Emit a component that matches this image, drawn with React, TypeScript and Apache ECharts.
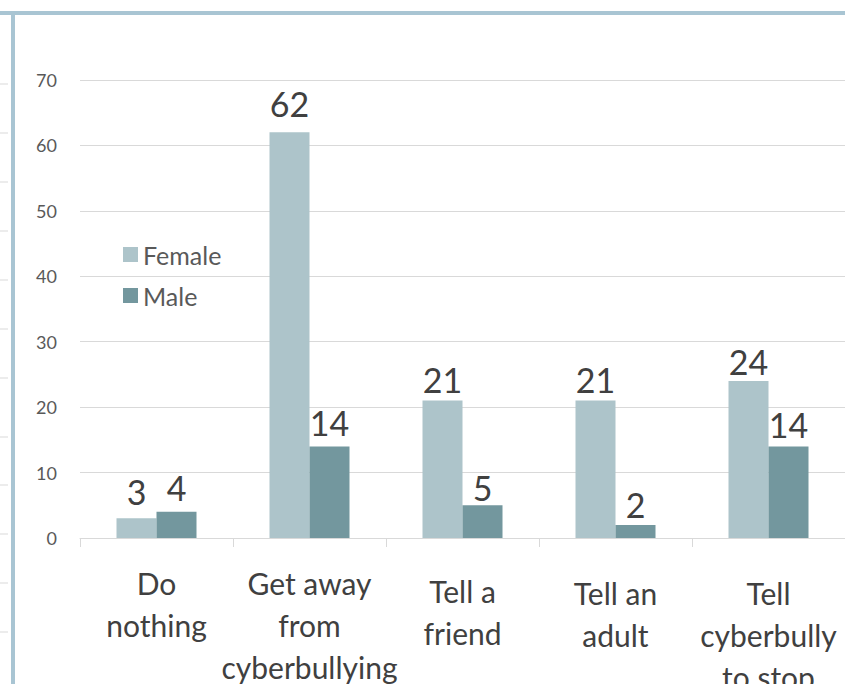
import React, { useEffect, useRef } from "react";
import * as echarts from "echarts";

const categories = [
  "Do\nnothing",
  "Get away\nfrom\ncyberbullying",
  "Tell a\nfriend",
  "Tell an\nadult",
  "Tell\ncyberbully\nto stop",
];
const categoryLabelShift = [0, 0, 8, 10, 10];
const femaleValues = [3, 62, 21, 21, 24];
const maleValues = [4, 14, 5, 2, 14];
const femaleLabelGap = [10, 12, 4, 4, 2];
const maleLabelGap = [7, 7, 1, 3, 5];
const yTicks = { min: 0, max: 70, interval: 10 };
const sideTickYs = [84, 133, 182, 231, 280, 329, 378, 437, 485, 534, 583, 632];

export default function App() {
  const ref = useRef<HTMLDivElement>(null);
  useEffect(() => {
    if (!ref.current) return;
    const chart = echarts.init(ref.current, undefined, { renderer: "svg" });
    const font = "Lato, 'Open Sans', sans-serif";
    const labelStyle = {
      show: true,
      position: "top" as const,
      distance: 6,
      fontSize: 34,
      color: "#404040",
      fontFamily: font,
    };
    const withGaps = (vals: number[], gaps: number[]) =>
      vals.map((v, i) => ({ value: v, label: { distance: gaps[i] } }));
    chart.setOption({
      animation: false,
      backgroundColor: "#ffffff",
      grid: {
        left: 80,
        right: 0,
        top: 80,
        bottom: 146,
        containLabel: false,
        outerBoundsMode: "none",
      },
      legend: {
        orient: "vertical",
        left: 118,
        top: 237,
        icon: "rect",
        itemWidth: 15,
        itemHeight: 15,
        itemGap: 16,
        textStyle: { fontSize: 25, color: "#595959", fontFamily: font },
        data: ["Female", "Male"],
      },
      xAxis: {
        type: "category",
        data: categories.map((c, i) => ({
          value: c,
          textStyle: { padding: [categoryLabelShift[i], 0, 0, 0] },
        })),
        axisLine: { show: true, lineStyle: { color: "#d9d9d9", width: 1 } },
        axisTick: { show: true, length: 9, lineStyle: { color: "#d9d9d9" } },
        axisLabel: {
          interval: 0,
          fontSize: 30,
          color: "#404040",
          fontFamily: font,
          lineHeight: 42,
          margin: 24,
          verticalAlign: "top",
        },
      },
      yAxis: {
        type: "value",
        min: yTicks.min,
        max: yTicks.max,
        interval: yTicks.interval,
        axisLine: { show: false },
        axisTick: { show: false },
        splitLine: { lineStyle: { color: "#d9d9d9", width: 1 } },
        axisLabel: { fontSize: 18, color: "#595959", fontFamily: font, margin: 23 },
      },
      series: [
        {
          name: "Female",
          type: "bar",
          data: withGaps(femaleValues, femaleLabelGap),
          barWidth: 40,
          barGap: "0%",
          itemStyle: { color: "#adc4ca" },
          label: labelStyle,
        },
        {
          name: "Male",
          type: "bar",
          data: withGaps(maleValues, maleLabelGap),
          barWidth: 40,
          barGap: "0%",
          itemStyle: { color: "#73979e" },
          label: labelStyle,
        },
      ],
      graphic: [
        {
          type: "rect",
          shape: { x: 0, y: 11, width: 845, height: 4 },
          style: { fill: "#a9c5d3" },
          z: 100,
        },
        {
          type: "rect",
          shape: { x: 11, y: 11, width: 4, height: 673 },
          style: { fill: "#a9c5d3" },
          z: 100,
        },
        ...sideTickYs.map((y) => ({
          type: "line",
          shape: { x1: 0, y1: y, x2: 8, y2: y },
          style: { stroke: "#d9d9d9", lineWidth: 1 },
          z: 100,
        })),
      ],
    });
    return () => chart.dispose();
  }, []);
  return (
    <div
      ref={ref}
      style={{ position: "fixed", left: 0, top: 0, width: 845, height: 684 }}
    />
  );
}
